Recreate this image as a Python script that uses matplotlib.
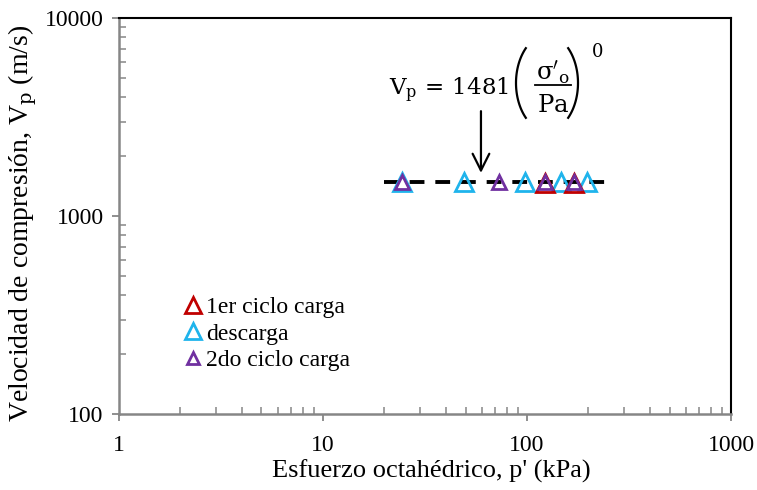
import matplotlib
matplotlib.use("Agg")
import matplotlib.pyplot as plt
from matplotlib.lines import Line2D
from matplotlib.transforms import IdentityTransform
import numpy as np

plt.rcParams['font.family'] = ['Liberation Serif', 'DejaVu Serif']
plt.rcParams['mathtext.fontset'] = 'dejavuserif'

# Data
carga1_x = [122, 170]
carga1_y = [1470, 1475]
descarga_x = [24.5, 49, 98, 147, 197]
descarga_y = [1481, 1481, 1481, 1481, 1481]
carga2_x = [24.5, 73, 122, 170]
carga2_y = [1490, 1485, 1488, 1490]
fit_x = [20, 240]
fit_coef = 1481
fit_exp = 0.0

W, H = 757, 490
fig = plt.figure(figsize=(W / 100, H / 100), dpi=100)
ax = fig.add_axes([0.157, 0.155, 0.8087, 0.808])

ax.set_xscale('log')
ax.set_yscale('log')
ax.set_xlim(1, 1000)
ax.set_ylim(100, 10000)

fx = np.array(fit_x, dtype=float)
ax.plot(fx, fit_coef * (fx / 100.0) ** fit_exp, color='black', lw=2.8,
        dashes=(3.8, 2.8), zorder=2)

ax.plot(descarga_x, descarga_y, linestyle='none', marker='^', ms=13,
        mfc='none', mec='#1fb4ec', mew=2.0, label='descarga', zorder=3)
ax.plot(carga1_x, carga1_y, linestyle='none', marker='^', ms=13,
        mfc='none', mec='#c00000', mew=2.0, label='1er ciclo carga', zorder=3)
ax.plot(carga2_x, carga2_y, linestyle='none', marker='^', ms=10,
        mfc='none', mec='#7030a0', mew=2.0, label='2do ciclo carga', zorder=4)

handles, labels = ax.get_legend_handles_labels()
order = [1, 0, 2]
leg = ax.legend([handles[i] for i in order], [labels[i] for i in order],
                loc='upper left', bbox_to_anchor=(0.094, 0.32), frameon=False,
                fontsize=17, handlelength=0.6, handletextpad=0.25,
                labelspacing=0.2, borderaxespad=0, markerscale=0.85)

ax.annotate('', xy=(59.5, 1600), xytext=(59.5, 3500),
            arrowprops=dict(arrowstyle='->', color='black', lw=1.6,
                            mutation_scale=30))

# Equation, built in output pixels (y measured from the top)
T = IdentityTransform()
def P(x, y):
    return x, H - y

eqfs = 16.5
fig.text(*P(389, 95), r'$\mathrm{V_p}\,=\,1481$', transform=T,
         fontsize=eqfs, ha='left', va='baseline')
fig.text(*P(553, 80), r"$\mathrm{\sigma}'_\mathrm{o}$", transform=T,
         fontsize=17.5, ha='center', va='baseline')
fig.text(*P(553, 112), r'$\mathrm{Pa}$', transform=T,
         fontsize=17.5, ha='center', va='baseline')
fig.text(*P(597, 57), r'$\mathrm{0}$', transform=T,
         fontsize=13, ha='center', va='baseline')
bx0, by0 = P(535, 85)
bx1, by1 = P(571, 85)
fig.add_artist(Line2D([bx0, bx1], [by0, by1], transform=T, color='black', lw=1.3))
t = np.linspace(-0.78, 0.78, 60)
rx, ry = 34.0, 49.5
cy = H - 83
lx = (516 + rx) - rx * np.cos(t)
rxp = (578 - rx) + rx * np.cos(t)
yy = cy + ry * np.sin(t)
fig.add_artist(Line2D(lx, yy, transform=T, color='black', lw=1.6))
fig.add_artist(Line2D(rxp, yy, transform=T, color='black', lw=1.6))

ax.set_xlabel("Esfuerzo octahédrico, p' (kPa)", fontsize=19, va='top')
ax.xaxis.set_label_coords(0.511, -0.116)
ax.set_ylabel(r"Velocidad de compresión, V$_\mathrm{p}$ (m/s)", fontsize=20)
ax.yaxis.set_label_coords(-0.131, 0.482)

ax.set_xticks([1, 10, 100, 1000])
ax.set_xticklabels(['1', '10', '100', '1000'])
ax.set_yticks([100, 1000, 10000])
ax.set_yticklabels(['100', '1000', '10000'])

gray = '#868686'
for s in ['left', 'bottom']:
    ax.spines[s].set_color(gray)
    ax.spines[s].set_linewidth(1.8)
for s in ['top', 'right']:
    ax.spines[s].set_color('black')
    ax.spines[s].set_linewidth(1.5)

ax.tick_params(which='major', direction='out', length=5, width=1.3,
               color=gray, labelsize=17)
ax.tick_params(axis='x', which='major', pad=10)
ax.tick_params(axis='y', which='major', pad=6)
ax.tick_params(which='minor', direction='in', length=5, width=1.1, color=gray)

fig.savefig('out.png', dpi=100)
